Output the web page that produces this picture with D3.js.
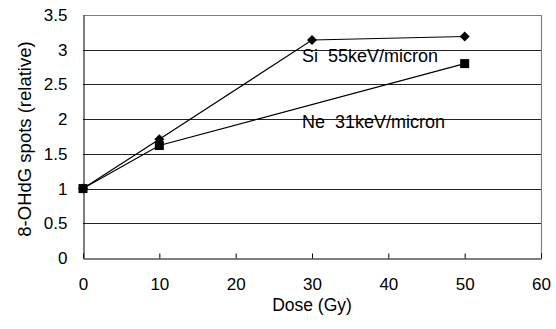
<!DOCTYPE html>
<html>
<head>
<meta charset="utf-8">
<script src="https://cdn.jsdelivr.net/npm/d3@7"></script>
<style>
  body { margin: 0; background: #fff; }
  text { font-family: Arial, "Liberation Sans", sans-serif; white-space: pre; }
</style>
</head>
<body>
<script>
var doses_si = [0, 10, 30, 50];
var spots_si = [1, 1.71, 3.14, 3.19];
var doses_ne = [0, 10, 50];
var spots_ne = [1, 1.62, 2.8];
var x_ticks = [0, 10, 20, 30, 40, 50, 60];
var y_ticks = [0, 0.5, 1, 1.5, 2, 2.5, 3, 3.5];

var svg = d3.select("body")
  .append("svg")
    .attr("width", 556)
    .attr("height", 329);

var m_left = 83, m_right = 541, m_top = 15, m_bottom = 258;

var x = d3.scaleLinear().domain([0, 60]).range([m_left, m_right]);
var y = d3.scaleLinear().domain([0, 3.5]).range([m_bottom, m_top]);

// grid lines
svg.append("g")
  .selectAll("line")
  .data(y_ticks.filter(function(d) { return d > 0 && d < 3.5; }))
  .enter().append("line")
    .attr("x1", m_left)
    .attr("x2", m_right)
    .attr("y1", function(d) { return Math.round(y(d)) + 0.5; })
    .attr("y2", function(d) { return Math.round(y(d)) + 0.5; })
    .attr("stroke", "#222")
    .attr("stroke-width", 1);

// plot border (top and right)
svg.append("path")
  .attr("d", "M" + m_left + "," + (m_top + 0.5) + "H" + (m_right + 0.5) + "V" + m_bottom)
  .attr("fill", "none")
  .attr("stroke", "#808080")
  .attr("stroke-width", 1.2);

// x axis
var xAxis = svg.append("g")
  .attr("transform", "translate(0," + (m_bottom + 0.5) + ")")
  .call(d3.axisBottom(x).tickValues(x_ticks).tickSizeInner(-5).tickSizeOuter(0).tickPadding(19));
xAxis.select(".domain").attr("stroke", "#000");
xAxis.selectAll(".tick line").attr("stroke", "#000");
xAxis.selectAll(".tick text")
  .attr("font-size", 17)
  .attr("font-family", "Arial, 'Liberation Sans', sans-serif")
  .attr("fill", "#000");

// y axis
var yAxis = svg.append("g")
  .attr("transform", "translate(" + (m_left + 0.5) + ",0)")
  .call(d3.axisLeft(y).tickValues(y_ticks).tickFormat(d3.format("")).tickSize(0).tickPadding(16));
yAxis.select(".domain").attr("stroke", "#000");
yAxis.selectAll(".tick text")
  .attr("font-size", 17)
  .attr("font-family", "Arial, 'Liberation Sans', sans-serif")
  .attr("fill", "#000");

// axis titles
svg.append("text")
  .attr("x", 312)
  .attr("y", 311)
  .attr("text-anchor", "middle")
  .attr("font-size", 17.5)
  .text("Dose (Gy)");

svg.append("text")
  .attr("transform", "translate(31,139) rotate(-90)")
  .attr("text-anchor", "middle")
  .attr("font-size", 18.5)
  .text("8-OHdG spots (relative)");

// series
var line = d3.line()
  .x(function(d) { return x(d[0]); })
  .y(function(d) { return y(d[1]); });

var si = doses_si.map(function(d, i) { return [d, spots_si[i]]; });
var ne = doses_ne.map(function(d, i) { return [d, spots_ne[i]]; });

svg.append("path")
  .datum(si)
  .attr("d", line)
  .attr("fill", "none")
  .attr("stroke", "#000")
  .attr("stroke-width", 1.2);

svg.append("path")
  .datum(ne)
  .attr("d", line)
  .attr("fill", "none")
  .attr("stroke", "#000")
  .attr("stroke-width", 1.2);

svg.append("g")
  .selectAll("path")
  .data(si)
  .enter().append("path")
    .attr("d", d3.symbol().type(d3.symbolSquare).size(50))
    .attr("transform", function(d) { return "translate(" + x(d[0]) + "," + y(d[1]) + ") rotate(45)"; })
    .attr("fill", "#000");

svg.append("g")
  .selectAll("rect")
  .data(ne)
  .enter().append("rect")
    .attr("x", function(d) { return x(d[0]) - 4.5; })
    .attr("y", function(d) { return y(d[1]) - 4.5; })
    .attr("width", 9)
    .attr("height", 9)
    .attr("fill", "#000");

// labels
svg.append("text")
  .attr("x", 302)
  .attr("y", 62)
  .attr("font-size", 18)
  .text("Si  55keV/micron");

svg.append("text")
  .attr("x", 302)
  .attr("y", 128)
  .attr("font-size", 18)
  .text("Ne  31keV/micron");
</script>
</body>
</html>
